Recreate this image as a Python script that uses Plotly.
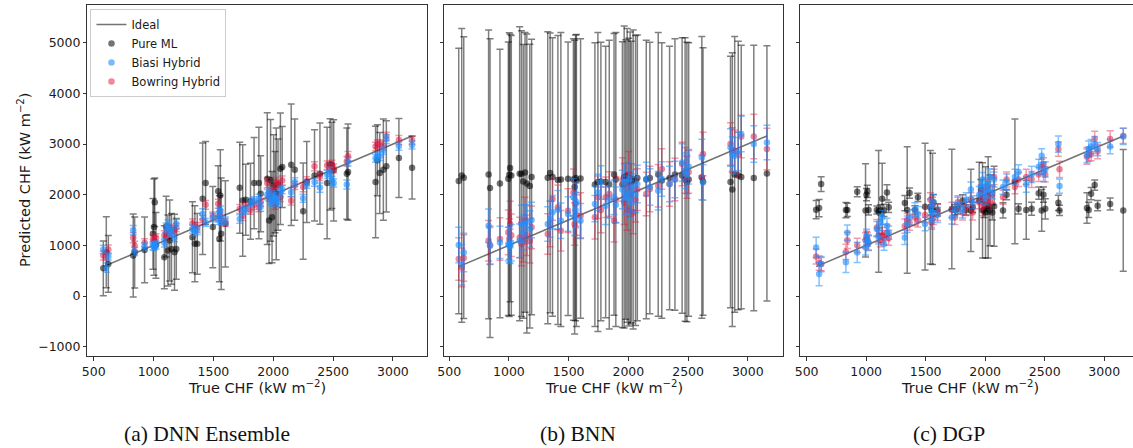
import plotly.graph_objects as go

# ---------------- data ----------------
true_chf = [580, 605, 622, 830, 842, 925, 995, 1003,
            1010, 1020, 1090, 1105, 1120, 1135, 1150, 1175,
            1190, 1325, 1345, 1365, 1410, 1435, 1495, 1540,
            1550, 1558, 1565, 1600, 1720, 1745, 1770, 1810,
            1840, 1880, 1895, 1950, 1965, 1978, 1990, 2003,
            2015, 2025, 2040, 2060, 2075, 2150, 2180, 2250,
            2280, 2345, 2390, 2450, 2475, 2490, 2505, 2615,
            2625, 2855, 2870, 2890, 2920, 2945, 3050, 3160]

# (a) DNN Ensemble
dnn_pure = [547, 864, 633, 800, 860, 910, 1227, 1360,
            1850, 1000, 765, 1370, 897, 1095, 930, 864,
            930, 1160, 1030, 1030, 1920, 2230, 1360, 2070,
            1130, 1985, 1227, 1425, 2137, 1887, 1900, 1870,
            2230, 2230, 2018, 2315, 1490, 2282, 1556, 2183,
            2050, 2018, 2200, 2513, 2546, 2592, 2493, 1675,
            2250, 2380, 2414, 2230, 2600, 2579, 2480, 2414,
            2447, 2250, 2678, 2427, 2493, 2560, 2724, 2533]
dnn_pure_err = [540, 700, 560, 820, 700, 650, 700, 950,
                480, 650, 620, 600, 700, 800, 700, 750,
                600, 700, 750, 600, 1100, 820, 800, 500,
                850, 900, 1100, 850, 900, 1100, 700, 750,
                900, 1100, 750, 1300, 850, 1200, 900, 1000,
                800, 1300, 900, 1100, 800, 1200, 1000, 950,
                800, 900, 1000, 1100, 900, 850, 1000, 900,
                950, 1100, 700, 800, 1000, 900, 780, 620]
dnn_biasi = [920, 560, 780, 1300, 880, 980, 990, 980,
             1000, 1010, 1050, 1350, 1400, 1300, 1250, 1150,
             1420, 1320, 1280, 1300, 1620, 1450, 1550, 1500,
             1650, 1680, 1500, 1480, 1520, 1700, 1700, 1850,
             1880, 1920, 1760, 2000, 2050, 1900, 1850, 1960,
             1990, 1900, 1850, 2060, 2100, 2050, 2250, 1930,
             2200, 2250, 2140, 2400, 2450, 2280, 2230, 2200,
             2650, 2720, 2750, 2760, 2880, 3100, 2960, 2980]
dnn_biasi_err = [80, 90, 70, 90, 80, 70, 75, 80,
                 70, 80, 85, 90, 100, 80, 85, 80,
                 90, 80, 90, 85, 100, 80, 85, 90,
                 80, 95, 90, 80, 85, 80, 75, 85,
                 80, 90, 85, 100, 90, 95, 80, 85,
                 90, 80, 85, 95, 80, 90, 85, 80,
                 75, 85, 90, 80, 90, 85, 80, 90,
                 85, 80, 90, 85, 80, 90, 85, 80]
dnn_bowring = [800, 790, 920, 1150, 990, 1050, 1120, 1100,
               1080, 1150, 1200, 1160, 1300, 1320, 1260, 1300,
               1350, 1430, 1370, 1350, 1500, 1800, 1580, 1820,
               1580, 1620, 1500, 1450, 1720, 1580, 1760, 1700,
               1800, 1750, 1850, 2230, 1960, 2000, 2100, 2050,
               1800, 2250, 2200, 1950, 2280, 1880, 2180, 2150,
               2270, 2560, 2360, 2580, 2520, 2600, 2520, 2660,
               2760, 2950, 3000, 2990, 2970, 3150, 3080, 3080]
dnn_bowring_err = [90, 80, 85, 100, 90, 80, 85, 95,
                   90, 80, 90, 85, 95, 80, 90, 85,
                   80, 90, 85, 95, 90, 85, 80, 90,
                   95, 85, 90, 80, 85, 90, 80, 85,
                   90, 85, 80, 95, 90, 85, 90, 80,
                   85, 90, 80, 85, 90, 85, 80, 90,
                   85, 90, 80, 85, 90, 80, 85, 95,
                   90, 85, 80, 90, 85, 80, 90, 85]

# (b) BNN
bnn_pure = [2270, 2380, 2335, 2400, 2130, 2222, 2315, 2394,
            2525, 2380, 2414, 2414, 2262, 2440, 2220, 2170,
            2350, 2335, 2430, 2350, 2290, 2300, 2315, 2300,
            2150, 2330, 2280, 2320, 2200, 2250, 2260, 2250,
            2200, 2400, 2300, 2200, 2350, 2300, 2380, 2250,
            2330, 2250, 2300, 2280, 2330, 2300, 2330, 2400,
            2280, 2330, 2400, 2380, 2300, 2250, 2300, 2340,
            2260, 2250, 2100, 2400, 2380, 2350, 2330, 2420]
bnn_pure_err = [2620, 2900, 2780, 2850, 2950, 2650, 2700, 2800,
                2640, 2760, 2900, 2820, 2700, 2760, 2950, 2800,
                2720, 2880, 2760, 2750, 2850, 2900, 2700, 2780,
                2900, 2820, 2880, 2760, 2800, 2950, 2750, 2680,
                2850, 2780, 2900, 2820, 2980, 2760, 2900, 2840,
                2880, 2780, 2950, 2860, 2820, 2750, 2680, 2800,
                2720, 2600, 2680, 2720, 2800, 2760, 2700, 2780,
                2640, 2480, 2700, 2720, 2650, 2600, 2620, 2520]
bnn_biasi = [1006, 618, 861, 1388, 993, 1058, 1026, 1006,
             980, 1050, 1091, 1421, 1256, 1421, 1454, 1322,
             1500, 1421, 1520, 1652, 1704, 1487, 1619, 1948,
             1553, 1698, 1850, 1487, 1815, 2045, 2242, 1782,
             1900, 1950, 1800, 2100, 2250, 1950, 2000, 2300,
             1900, 2050, 2150, 2000, 2210, 2309, 2150, 2078,
             2309, 2210, 2300, 2637, 2473, 2400, 2550, 2735,
             2242, 2933, 2802, 2769, 2850, 3197, 3000, 3032]
bnn_biasi_err = [350, 400, 380, 330, 360, 320, 330, 350,
                 340, 360, 330, 370, 350, 380, 340, 360,
                 350, 340, 360, 330, 380, 350, 340, 370,
                 360, 350, 380, 340, 350, 360, 330, 370,
                 360, 340, 350, 380, 360, 340, 370, 350,
                 380, 360, 340, 350, 370, 330, 360, 380,
                 340, 350, 360, 370, 350, 380, 340, 360,
                 350, 370, 340, 360, 380, 350, 360, 340]
bnn_bowring = [730, 565, 750, 1091, 1000, 1124, 1256, 1124,
               1421, 1200, 1157, 1026, 1091, 1487, 1200, 1091,
               1355, 1223, 1421, 1915, 1750, 1289, 1685, 2045,
               1421, 1815, 1600, 1586, 1553, 1948, 1700, 1948,
               2013, 1487, 1900, 2300, 1850, 2200, 1700, 2400,
               2000, 2150, 1650, 1900, 2100, 2013, 2111, 2177,
               2506, 2210, 2300, 2605, 2480, 2342, 2450, 2342,
               2802, 3000, 2880, 2868, 2800, 3150, 3150, 2900]
bnn_bowring_err = [420, 380, 460, 400, 380, 420, 440, 400,
                   450, 420, 400, 430, 420, 460, 400, 440,
                   420, 400, 450, 420, 440, 400, 430, 460,
                   420, 440, 400, 450, 430, 420, 450, 400,
                   440, 420, 460, 430, 440, 420, 400, 450,
                   430, 460, 420, 440, 410, 430, 450, 420,
                   400, 440, 420, 430, 450, 410, 420, 440,
                   430, 420, 440, 410, 430, 420, 440, 410]

# (c) DGP
dgp_pure = [1703, 1736, 2210, 1697, 1700, 2058, 1690, 2000,
            2065, 1700, 1697, 1670, 1700, 1920, 1690, 2045,
            1750, 1835, 1697, 2032, 1700, 1947, 1763, 1750,
            1700, 1720, 1850, 1700, 1717, 1700, 1720, 1880,
            1700, 1690, 1750, 1882, 2100, 1690, 1700, 1650,
            1720, 1750, 1690, 1650, 1770, 1690, 2000, 2262,
            1720, 1700, 1723, 2030, 1690, 2000, 1720, 1840,
            1690, 1736, 1700, 2020, 2190, 1783, 1817, 1690]
dgp_pure_err = [180, 170, 145, 150, 130, 100, 920, 120,
                120, 100, 80, 1200, 100, 700, 120, 150,
                100, 150, 1250, 100, 80, 80, 1250, 1120,
                100, 1100, 150, 120, 1180, 100, 100, 120,
                100, 810, 100, 760, 200, 940, 150, 900,
                100, 1000, 700, 150, 790, 150, 100, 1230,
                100, 580, 130, 120, 410, 150, 200, 150,
                100, 300, 150, 120, 100, 100, 120, 1200]
dgp_biasi = [960, 434, 631, 664, 1250, 861, 960, 1190,
             1100, 1050, 1322, 1157, 1453, 1552, 1025, 1387,
             1250, 1157, 1420, 1552, 1700, 1618, 1420, 1750,
             1500, 1650, 1850, 1600, 1550, 1700, 1800, 1700,
             1900, 2100, 1850, 2000, 2150, 2300, 2050, 1950,
             2200, 2100, 2350, 2050, 2300, 2150, 2250, 2350,
             2450, 2200, 2400, 2550, 2768, 2450, 2500, 3000,
             2170, 2780, 2900, 2950, 3000, 2900, 2950, 3150]
dgp_biasi_err = [200, 230, 150, 200, 150, 200, 150, 130,
                 120, 140, 150, 130, 160, 140, 120, 150,
                 130, 140, 160, 150, 140, 150, 130, 160,
                 150, 140, 160, 150, 130, 140, 150, 160,
                 140, 150, 130, 160, 150, 140, 160, 150,
                 140, 150, 160, 130, 150, 140, 160, 150,
                 140, 150, 160, 150, 140, 190, 150, 160,
                 140, 150, 160, 140, 150, 130, 140, 160]
dgp_bowring = [780, 650, 630, 870, 1100, 1000, 1100, 1150,
               1120, 1050, 1350, 1200, 1100, 1200, 1150, 1250,
               1150, 1380, 1500, 1450, 1550, 1500, 1600, 1900,
               1450, 1800, 1550, 1650, 1700, 1550, 1850, 1650,
               1750, 1900, 1650, 1850, 2050, 1750, 1950, 1900,
               2150, 1950, 1850, 2000, 2350, 1950, 2300, 2150,
               2300, 2350, 2300, 2400, 2550, 2600, 2400, 2900,
               2500, 2750, 2800, 2800, 3100, 2850, 3100, 3160]
dgp_bowring_err = [150, 140, 130, 150, 160, 140, 150, 130,
                   140, 150, 160, 140, 130, 150, 140, 160,
                   150, 140, 130, 150, 160, 140, 150, 140,
                   130, 150, 140, 160, 150, 140, 130, 150,
                   160, 140, 150, 130, 140, 160, 150, 140,
                   150, 130, 140, 160, 150, 140, 150, 130,
                   140, 150, 160, 140, 150, 130, 150, 140,
                   160, 150, 140, 130, 150, 140, 160, 150]

series_names = ["Pure ML", "Biasi Hybrid", "Bowring Hybrid"]
panel_captions = ["(a) DNN Ensemble", "(b) BNN", "(c) DGP"]
y_ticks = [-1000, 0, 1000, 2000, 3000, 4000, 5000]
x_ticks = [500, 1000, 1500, 2000, 2500, 3000]

panels = [
    [(dnn_pure, dnn_pure_err), (dnn_biasi, dnn_biasi_err), (dnn_bowring, dnn_bowring_err)],
    [(bnn_pure, bnn_pure_err), (bnn_biasi, bnn_biasi_err), (bnn_bowring, bnn_bowring_err)],
    [(dgp_pure, dgp_pure_err), (dgp_biasi, dgp_biasi_err), (dgp_bowring, dgp_bowring_err)],
]
for p in panels:
    for v, e in p:
        assert len(v) == len(true_chf) and len(e) == len(true_chf), (len(v), len(e))

# ---------------- style ----------------
W, H = 1133, 448
marker_cols = ["rgba(0,0,0,0.55)", "rgba(30,144,255,0.6)", "rgba(220,20,60,0.5)"]
err_cols = ["rgba(0,0,0,0.5)", "rgba(30,144,255,0.55)", "rgba(220,20,60,0.42)"]
FONT = "DejaVu Sans"

# pixel geometry of each panel (left, right) and x range
panel_px = [(81, 423), (440, 781), (798, 1133)]
x_ranges = [[448, 3288], [459, 3296], [445, 3242]]
y_range = [-1184, 5744]
y_dom = [1 - 356 / H, 1 - 5 / H]

fig = go.Figure()
xmin, xmax = min(true_chf), max(true_chf)
draw_order = [0, 2, 1]  # Pure ML, Bowring, Biasi (Biasi on top)
for i, p in enumerate(panels):
    xa = "x" if i == 0 else f"x{i+1}"
    ya = "y" if i == 0 else f"y{i+1}"
    fig.add_trace(go.Scatter(
        x=[xmin, xmax], y=[xmin, xmax], mode="lines", name="Ideal",
        legendgroup="Ideal", showlegend=(i == 0), legendrank=1,
        line=dict(color="rgba(40,40,40,0.65)", width=1.6),
        xaxis=xa, yaxis=ya))
    for j in draw_order:
        vals, errs = p[j]
        fig.add_trace(go.Scatter(
            x=true_chf, y=vals, mode="markers", name=series_names[j],
            legendgroup=series_names[j], showlegend=(i == 0),
            marker=dict(color=marker_cols[j], size=6.5, line=dict(width=0)),
            error_y=dict(type="data", array=errs, visible=True,
                         color=err_cols[j], thickness=1.5, width=3.5),
            xaxis=xa, yaxis=ya, legendrank=j + 2))

axis_common = dict(showgrid=False, zeroline=False, showline=True,
                   linecolor="#333333", linewidth=1, ticks="outside",
                   ticklen=3.5, tickwidth=1, tickcolor="#333333",
                   tickfont=dict(family=FONT, size=12.5, color="#1a1a1a"))

layout = dict(width=W, height=H, autosize=False,
              margin=dict(l=0, r=0, t=0, b=0),
              plot_bgcolor="white", paper_bgcolor="white",
              font=dict(family=FONT, color="#1a1a1a"),
              legend=dict(x=84 / W, y=1 - 9 / H, xanchor="left", yanchor="top",
                          bgcolor="rgba(255,255,255,0.85)", bordercolor="#cccccc",
                          borderwidth=1, font=dict(family=FONT, size=11.5, color="#1a1a1a"),
                          tracegroupgap=0))

for i in range(3):
    xk = "xaxis" if i == 0 else f"xaxis{i+1}"
    yk = "yaxis" if i == 0 else f"yaxis{i+1}"
    l, r = panel_px[i]
    layout[xk] = dict(axis_common, domain=[l / W, r / W], range=x_ranges[i],
                      tickvals=x_ticks, anchor="y" if i == 0 else f"y{i+1}",
                      mirror=True)
    layout[yk] = dict(axis_common, domain=y_dom, range=y_range, tickvals=y_ticks,
                      anchor="x" if i == 0 else f"x{i+1}",
                      showticklabels=(i == 0), mirror=(i < 2))

fig.update_layout(**layout)

ann = []
for i in range(3):
    l, r = panel_px[i]
    cx = (l + r) / 2 if i < 2 else (l + 1140) / 2
    ann.append(dict(text="True CHF (kW m<sup>−2</sup>)", x=cx / W, y=1 - 387 / H,
                    xref="paper", yref="paper", showarrow=False,
                    xanchor="center", yanchor="middle",
                    font=dict(family=FONT, size=14.5, color="#1a1a1a")))
cap_x = [201, 575, 948]
for i in range(3):
    ann.append(dict(text=panel_captions[i], x=cap_x[i] / W, y=1 - 434 / H,
                    xref="paper", yref="paper", showarrow=False,
                    xanchor="center", yanchor="middle",
                    font=dict(family="Liberation Serif", size=21.5, color="#111111")))
ann.append(dict(text="Predicted CHF (kW m<sup>−2</sup>)", x=17 / W, y=1 - 180 / H,
                xref="paper", yref="paper", showarrow=False, textangle=-90,
                xanchor="center", yanchor="middle",
                font=dict(family=FONT, size=14.5, color="#1a1a1a")))
fig.update_layout(annotations=ann)

fig.write_html("out.html")
